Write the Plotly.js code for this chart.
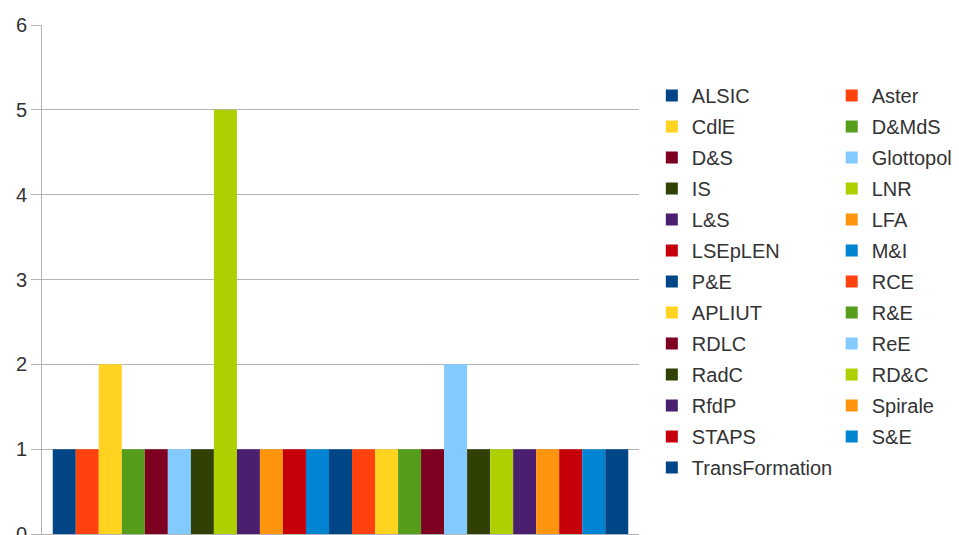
<!DOCTYPE html>
<html>
<head>
<meta charset="utf-8">
<script src="https://cdn.plot.ly/plotly-3.0.1.min.js"></script>
<style>html,body{margin:0;padding:0;background:#fff;}#chart{width:959px;height:535px;}</style>
</head>
<body>
<div id="chart"></div>
<script>
const seriesNames = ["ALSIC","Aster","CdlE","D&MdS","D&S","Glottopol","IS","LNR","L&S","LFA","LSEpLEN","M&I","P&E","RCE","APLIUT","R&E","RDLC","ReE","RadC","RD&C","RfdP","Spirale","STAPS","S&E","TransFormation"];
const seriesValues = [1,1,2,1,1,1,1,5,1,1,1,1,1,1,1,1,1,2,1,1,1,1,1,1,1];
const palette = ["#004586","#ff420e","#ffd320","#579d1c","#7e0021","#83caff","#314004","#aecf00","#4b1f6f","#ff950e","#c5000b","#0084d1"];
const category = [""];

const traces = seriesNames.map((name, i) => ({
  type: "bar",
  name: name,
  x: category,
  y: [seriesValues[i]],
  marker: {color: palette[i % palette.length], line: {width: 0}},
  legend: i % 2 === 0 ? "legend" : "legend2",
  legendgroup: "g" + i,
  hoverinfo: "name+y"
}));

const legendFont = {family: "Liberation Sans, Arial, sans-serif", size: 20, color: "#333333"};
const layout = {
  width: 959,
  height: 535,
  margin: {l: 42, r: 313, t: 25, b: 1, pad: 0},
  paper_bgcolor: "#ffffff",
  plot_bgcolor: "#ffffff",
  barmode: "group",
  bargap: 0.036,
  bargroupgap: 0,
  font: {family: "Liberation Sans, Arial, sans-serif", size: 20, color: "#333333"},
  xaxis: {
    showticklabels: false,
    showgrid: false,
    zeroline: false,
    showline: true,
    linecolor: "#b3b3b3",
    linewidth: 1,
    ticks: ""
  },
  yaxis: {
    range: [0, 6],
    dtick: 1,
    tick0: 0,
    showgrid: true,
    gridcolor: "#b3b3b3",
    gridwidth: 1,
    zeroline: false,
    showline: true,
    linecolor: "#b3b3b3",
    linewidth: 1,
    ticks: "outside",
    ticklen: 10,
    tickcolor: "#b3b3b3",
    ticklabeloverflow: "allow",
    tickfont: {family: "Liberation Sans, Arial, sans-serif", size: 20, color: "#333333"},
    mirror: false
  },
  showlegend: true,
  legend: {
    x: 1.0215, y: 0.9, xanchor: "left", yanchor: "top",
    orientation: "v",
    font: legendFont,
    tracegroupgap: 2,
    bgcolor: "rgba(0,0,0,0)",
    borderwidth: 0
  },
  legend2: {
    x: 1.3228, y: 0.9, xanchor: "left", yanchor: "top",
    orientation: "v",
    font: legendFont,
    tracegroupgap: 2,
    bgcolor: "rgba(0,0,0,0)",
    borderwidth: 0
  }
};

Plotly.newPlot("chart", traces, layout, {displayModeBar: false, staticPlot: true});
</script>
</body>
</html>
